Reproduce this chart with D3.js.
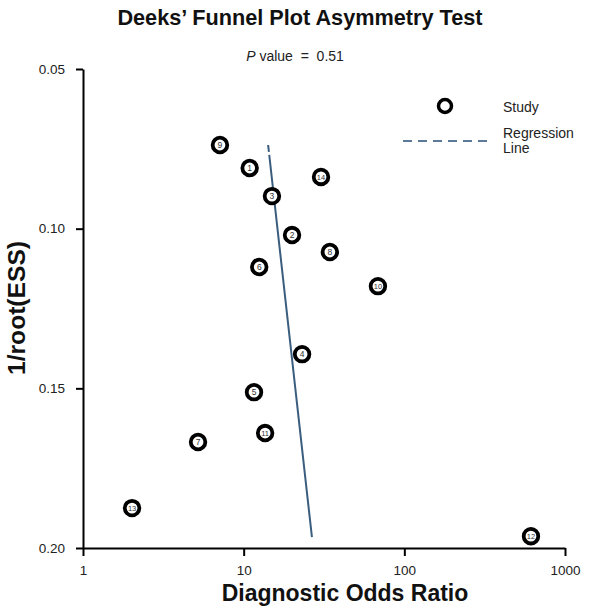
<!DOCTYPE html>
<html>
<head>
<meta charset="utf-8">
<script src="https://cdn.jsdelivr.net/npm/d3@7/dist/d3.min.js"></script>
<style>
  html, body { margin: 0; padding: 0; background: #fff; }
  svg { display: block; font-family: "Liberation Sans", Arial, sans-serif; }
  text { white-space: pre; }
</style>
</head>
<body>
<svg id="chart" width="600" height="612"></svg>
<script>
// ---- data ----
const studies = ["1","2","3","4","5","6","7","8","9","10","11","12","13","14"];
const dor = [10.9, 20.0, 15.0, 23.1, 11.6, 12.5, 5.2, 34.4, 7.12, 68.5, 13.6, 614, 2.02, 30.3];
const invRootEss = [0.0810, 0.1020, 0.0898, 0.1393, 0.1512, 0.1120, 0.1668, 0.1073, 0.0738, 0.1180, 0.1640, 0.1963, 0.1875, 0.0838];
const regDor = [14.2, 26.6];
const regY = [0.0738, 0.1966];
const xTicks = [1, 10, 100, 1000];
const yTicks = [0.05, 0.10, 0.15, 0.20];
const pValue = "0.51";

// ---- layout ----
const svg = d3.select("#chart");
const x = d3.scaleLog().domain([1, 1000]).range([83, 565]);
const y = d3.scaleLinear().domain([0.05, 0.20]).range([69, 548]);

// axes
const xAxis = svg.append("g").attr("transform", `translate(0,${y(0.20)})`)
  .call(d3.axisBottom(x).tickValues(xTicks).tickFormat(d3.format("d"))
    .tickSize(8).tickSizeOuter(0).tickPadding(9));
const yAxis = svg.append("g").attr("transform", `translate(${x(1)},0)`)
  .call(d3.axisLeft(y).tickValues(yTicks).tickFormat(d3.format(".2f"))
    .tickSize(7).tickSizeOuter(0).tickPadding(11));
[xAxis, yAxis].forEach(g => {
  g.select(".domain").attr("stroke", "#000").attr("stroke-width", 2);
  g.selectAll(".tick line").attr("stroke", "#000").attr("stroke-width", 2);
  g.selectAll(".tick text").attr("font-size", 13.5).attr("fill", "#222")
    .attr("font-family", "Liberation Sans, Arial, sans-serif");
});

// regression line
const reg = regDor.map((d, i) => [d, regY[i]]);
svg.append("path")
  .attr("d", d3.line().x(d => x(d[0])).y(d => y(d[1]))(reg))
  .attr("stroke", "#3b5d7e").attr("stroke-width", 2).attr("fill", "none")
  .attr("stroke-dasharray", "7,3,1000");

// points
const pts = studies.map((s, i) => ({ s, x: dor[i], y: invRootEss[i] }));
const g = svg.append("g");
const pg = g.selectAll("g").data(pts).join("g")
  .attr("transform", d => `translate(${x(d.x)},${y(d.y)})`);
pg.append("circle").attr("r", 7.3).attr("fill", "#fff")
  .attr("stroke", "#000").attr("stroke-width", 3.8);
pg.append("text").text(d => d.s).attr("text-anchor", "middle")
  .attr("dy", "0.35em").attr("font-size", d => d.s.length > 1 ? 7.5 : 8.5)
  .attr("fill", "#333");

// title
svg.append("text").attr("x", 300).attr("y", 25).attr("text-anchor", "middle")
  .attr("font-size", 21.7).attr("font-weight", "bold").attr("fill", "#111")
  .text("Deeks\u2019 Funnel Plot Asymmetry Test");

// p value
const pt = svg.append("text").attr("x", 295).attr("y", 61).attr("text-anchor", "middle")
  .attr("font-size", 14).attr("fill", "#222");
pt.append("tspan").attr("font-style", "italic").text("P");
pt.append("tspan").text(" value  =  " + pValue);

// axis titles
svg.append("text").attr("x", 345).attr("y", 601).attr("text-anchor", "middle")
  .attr("font-size", 23).attr("font-weight", "bold").attr("fill", "#111")
  .text("Diagnostic Odds Ratio");
svg.append("text").attr("transform", "translate(17,308) rotate(-90)")
  .attr("text-anchor", "middle").attr("dy", "0.35em")
  .attr("font-size", 24).attr("font-weight", "bold").attr("fill", "#111")
  .attr("textLength", 134).attr("lengthAdjust", "spacingAndGlyphs")
  .text("1/root(ESS)");

// legend
const lg = svg.append("g");
lg.append("circle").attr("cx", 445).attr("cy", 106).attr("r", 6.5)
  .attr("fill", "#fff").attr("stroke", "#000").attr("stroke-width", 3.5);
lg.append("text").attr("x", 503).attr("y", 112).attr("font-size", 14).attr("fill", "#222").text("Study");
lg.append("line").attr("x1", 403).attr("x2", 488).attr("y1", 141).attr("y2", 141)
  .attr("stroke", "#5b7a99").attr("stroke-width", 2).attr("stroke-dasharray", "9,6");
lg.append("text").attr("x", 503).attr("y", 138).attr("font-size", 14).attr("fill", "#222").text("Regression");
lg.append("text").attr("x", 503).attr("y", 153).attr("font-size", 14).attr("fill", "#222").text("Line");
</script>
</body>
</html>
